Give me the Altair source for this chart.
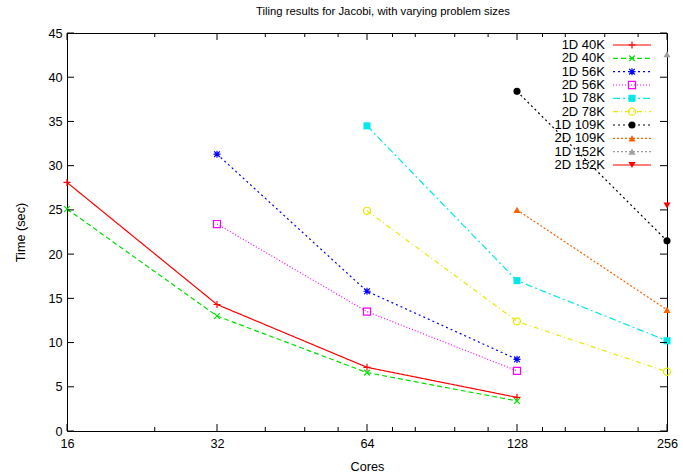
import altair as alt
import pandas as pd

# ---- data -------------------------------------------------------------
cores = [16, 32, 64, 128, 256]
series_names = ["1D 40K", "2D 40K", "1D 56K", "2D 56K", "1D 78K",
                "2D 78K", "1D 109K", "2D 109K", "1D 152K", "2D 152K"]

t_1d_40k = [28.1, 14.3, 7.2, 3.8, None]
t_2d_40k = [25.1, 13.0, 6.6, 3.4, None]
t_1d_56k = [None, 31.3, 15.8, 8.1, None]
t_2d_56k = [None, 23.4, 13.5, 6.8, None]
t_1d_78k = [None, None, 34.5, 17.0, 10.2]
t_2d_78k = [None, None, 24.9, 12.4, 6.7]
t_1d_109k = [None, None, None, 38.4, 21.5]
t_2d_109k = [None, None, None, 25.0, 13.7]
t_1d_152k = [None, None, None, None, 42.6]
t_2d_152k = [None, None, None, None, 25.5]

y_ticks = [0, 5, 10, 15, 20, 25, 30, 35, 40, 45]
x_minor_ticks = [24, 40, 48, 56, 72, 80, 96, 112, 144, 160, 192, 224]

# ---- styles -----------------------------------------------------------
colors = ["#ff0000", "#00e000", "#0000ff", "#ff00ff", "#00e8e8",
          "#e8e800", "#000000", "#ff6000", "#a0a0a0", "#ff0000"]
dashes = [[1, 0], [5, 3], [2, 3], [1, 2], [7, 3, 2, 3],
          [5, 3, 1, 3], [2, 3], [2, 2], [2, 2], [1, 0]]
plus = "M-1,0L1,0M0,-1L0,1"
cross = "M-0.8,-0.8L0.8,0.8M-0.8,0.8L0.8,-0.8"
star = plus + cross
shapes = [plus, cross, star, "square", "square",
          "circle", "circle", "triangle-up", "triangle-up", "triangle-down"]
filled_series = ["1D 78K", "1D 109K", "2D 109K", "1D 152K", "2D 152K"]

all_times = [t_1d_40k, t_2d_40k, t_1d_56k, t_2d_56k, t_1d_78k,
             t_2d_78k, t_1d_109k, t_2d_109k, t_1d_152k, t_2d_152k]
rows = []
for name, times in zip(series_names, all_times):
    for c, t in zip(cores, times):
        if t is not None:
            rows.append({"series": name, "cores": c, "time": t})
df = pd.DataFrame(rows)

W, H = 600, 398
FONT = "Liberation Sans"
FS = 12.7
MSIZE = 50

xscale = alt.Scale(type="log", base=2, domain=[16, 256], nice=False)
yscale = alt.Scale(domain=[0, 45], nice=False, zero=True)
color_scale = alt.Scale(domain=series_names, range=colors)

axis_style = dict(ticks=False, domain=False, grid=False, labelFontSize=FS,
                  titleFontSize=FS, labelFont=FONT, titleFont=FONT,
                  titleFontWeight="normal", labelColor="black", titleColor="black")
x_axis = alt.Axis(values=cores, format="d", title="Cores", labelPadding=6,
                  titlePadding=11, labelFlush=False, **axis_style)
y_axis = alt.Axis(values=y_ticks, title="Time (sec)", labelPadding=5,
                  titlePadding=20, **axis_style)


def X(field):
    return alt.X(field, scale=xscale, axis=x_axis)


def Y(field):
    return alt.Y(field, scale=yscale, axis=y_axis)


color_enc = alt.Color("series:N", scale=color_scale, legend=None)
dash_enc = alt.StrokeDash("series:N", scale=alt.Scale(domain=series_names, range=dashes), legend=None)
shape_enc = alt.Shape("series:N", scale=alt.Scale(domain=series_names, range=shapes), legend=None)

is_filled = alt.FieldOneOfPredicate(field="series", oneOf=filled_series)

base = alt.Chart(df)

lines = base.mark_line(strokeWidth=1.2).encode(
    x=X("cores:Q"), y=Y("time:Q"),
    color=color_enc, strokeDash=dash_enc, order="cores:Q",
)

open_points = base.transform_filter(~is_filled).mark_point(
    size=MSIZE, strokeWidth=1.2, opacity=1, filled=False).encode(
    x=X("cores:Q"), y=Y("time:Q"), color=color_enc, shape=shape_enc)

solid_points = base.transform_filter(is_filled).mark_point(
    size=MSIZE, opacity=1, filled=True).encode(
    x=X("cores:Q"), y=Y("time:Q"), color=color_enc, shape=shape_enc)


# ---- inward tick marks on all four sides -----------------------------
def x_tick_layer(values, length):
    d = alt.Chart(pd.DataFrame({"cores": values}))
    bottom = d.mark_rule(color="black", strokeWidth=1).encode(
        x=X("cores:Q"), y=alt.value(H), y2=alt.value(H - length))
    top = d.mark_rule(color="black", strokeWidth=1).encode(
        x=X("cores:Q"), y=alt.value(0), y2=alt.value(length))
    return [bottom, top]


def y_tick_layer(values, length):
    d = alt.Chart(pd.DataFrame({"time": values}))
    left = d.mark_rule(color="black", strokeWidth=1).encode(
        y=Y("time:Q"), x=alt.value(0), x2=alt.value(length))
    right = d.mark_rule(color="black", strokeWidth=1).encode(
        y=Y("time:Q"), x=alt.value(W), x2=alt.value(W - length))
    return [left, right]


ticks = x_tick_layer(cores, 7) + x_tick_layer(x_minor_ticks, 4) + y_tick_layer(y_ticks, 7)

plot = alt.layer(lines, open_points, solid_points, *ticks)

# ---- key in the upper-right corner ------------------------------------
leg_df = pd.DataFrame({"series": series_names, "row": list(range(len(series_names)))})
row_y = alt.Y("row:O", axis=None,
              scale=alt.Scale(type="point", domain=list(range(len(series_names))),
                              range=[12, 132], padding=0))
leg = alt.Chart(leg_df)
leg_text = leg.mark_text(align="right", baseline="middle", fontSize=13,
                         font=FONT, color="black").encode(
    x=alt.value(538), y=row_y, text="series:N")
leg_line = leg.mark_rule(strokeWidth=1.2).encode(
    x=alt.value(546), x2=alt.value(584), y=row_y,
    color=color_enc, strokeDash=dash_enc)
leg_open = leg.transform_filter(~is_filled).mark_point(
    size=MSIZE, strokeWidth=1.2, opacity=1, filled=False).encode(
    x=alt.value(565), y=row_y, color=color_enc, shape=shape_enc)
leg_solid = leg.transform_filter(is_filled).mark_point(
    size=MSIZE, opacity=1, filled=True).encode(
    x=alt.value(565), y=row_y, color=color_enc, shape=shape_enc)
key = alt.layer(leg_line, leg_open, leg_solid, leg_text)

chart = alt.layer(plot, key).resolve_scale(y="independent").properties(
    width=W, height=H,
    title=alt.TitleParams("Tiling results for Jacobi, with varying problem sizes",
                          fontSize=11.3, font=FONT, fontWeight="normal", color="black",
                          anchor="start", frame="group", dx=189, offset=10),
    autosize=alt.AutoSizeParams(type="none"),
    padding={"left": 67, "top": 33, "right": 16, "bottom": 45},
).configure_view(stroke="black", strokeWidth=1)

chart.save("out.html", embed_options={"renderer": "svg", "actions": False})
